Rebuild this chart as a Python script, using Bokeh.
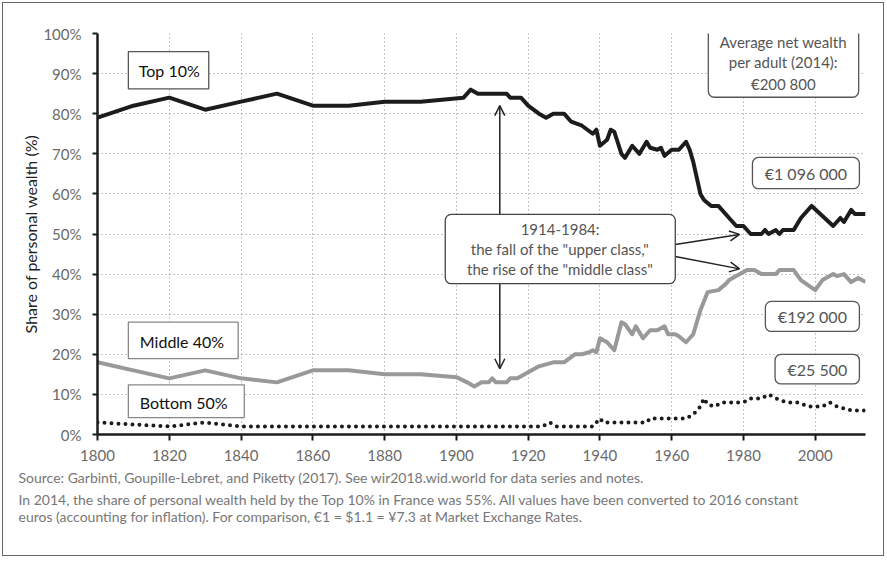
from bokeh.plotting import figure
from bokeh.models import (Range1d, FixedTicker, PrintfTickFormatter, Label,
                          BoxAnnotation, Arrow, OpenHead, Title)
from bokeh.embed import file_html
from bokeh.resources import INLINE

# ---------------- data ----------------
top10_years = [1800, 1810, 1820, 1830, 1840, 1850, 1860, 1870, 1880, 1890,
               1902, 1904, 1906, 1914, 1915, 1918, 1920, 1923, 1925, 1927,
               1930, 1932, 1935, 1938, 1939, 1940, 1942, 1943, 1944, 1946,
               1947, 1949, 1951, 1953, 1954, 1956, 1957, 1958, 1960, 1962,
               1964, 1965, 1966, 1967, 1968, 1969, 1971, 1973, 1976, 1978,
               1980, 1982, 1985, 1986, 1987, 1989, 1990, 1991, 1994, 1996,
               1999, 2002, 2005, 2007, 2008, 2010, 2011, 2014]
top10_share = [79, 82, 84, 81, 83, 85, 82, 82, 83, 83,
               84, 86, 85, 85, 84, 84, 82, 80, 79, 80,
               80, 78, 77, 75, 76, 72, 73.5, 76, 75.5, 70,
               69, 72, 70, 73, 71.5, 71, 71.5, 69.5, 71, 71,
               73, 71, 68, 64, 60, 58.5, 57, 57, 54, 52,
               52, 50, 50, 51, 50, 51, 50, 51, 51, 54,
               57, 54.5, 52, 54, 53, 56, 55, 55]

mid40_years = [1800, 1810, 1820, 1830, 1840, 1850, 1860, 1870, 1880, 1890,
               1900, 1903, 1905, 1907, 1909, 1910, 1911, 1914, 1915, 1917,
               1919, 1921, 1923, 1925, 1927, 1930, 1933, 1935, 1937, 1938,
               1939, 1940, 1942, 1944, 1946, 1947, 1949, 1950, 1952, 1954,
               1956, 1958, 1959, 1961, 1962, 1964, 1966, 1968, 1970, 1973,
               1975, 1976, 1979, 1981, 1983, 1985, 1989, 1990, 1994, 1996,
               2000, 2002, 2005, 2006, 2008, 2010, 2012, 2014]
mid40_share = [18, 16, 14, 16, 14, 13, 16, 16, 15, 15,
               14.3, 13, 12, 13, 13, 14, 13, 13, 14, 14,
               15, 16, 17, 17.5, 18, 18, 20, 20, 20.5, 21,
               20.5, 24, 23, 21, 28, 27.5, 25, 27, 24, 26,
               26, 27, 25, 25, 24.5, 23, 25, 31, 35.5, 36,
               37.5, 38.5, 40, 41, 41, 40, 40, 41, 41, 38.5,
               36, 38.5, 40, 39.5, 40, 38, 39, 38]

bot50_years = [1800, 1810, 1820, 1830, 1840, 1900, 1924, 1926, 1928, 1938,
               1940, 1941, 1953, 1954, 1964, 1965, 1966, 1968, 1969, 1970,
               1972, 1974, 1980, 1982, 1985, 1987, 1989, 1992, 1995, 1998,
               2002, 2004, 2006, 2008, 2010, 2014]
bot50_share = [3, 2.5, 2, 3, 2, 2, 2, 3, 2, 2,
               4, 3, 3, 4, 4, 4.5, 5, 7, 9, 7.5,
               7, 8, 8, 9, 9, 10, 9, 8, 8, 7,
               7, 8, 7, 6.5, 6, 6]

x_ticks = [1800, 1820, 1840, 1860, 1880, 1900, 1920, 1940, 1960, 1980, 2000]
y_ticks = [0, 10, 20, 30, 40, 50, 60, 70, 80, 90, 100]

source_note = "Source: Garbinti, Goupille-Lebret, and Piketty (2017). See wir2018.wid.world for data series and notes."
comment_note = ("In 2014, the share of personal wealth held by the Top 10% in France was 55%. All values have been converted to 2016 constant\n"
                "euros (accounting for inflation). For comparison, €1 = $1.1 = ¥7.3 at Market Exchange Rates.")

FONT = "Lato"
DARK = "#1c1c1c"
MID = "#999999"
TXT = "#555555"

p = figure(width=882, height=554, output_backend="svg", toolbar_location=None,
           x_range=Range1d(1800, 2014), y_range=Range1d(0, 100),
           min_border_left=94, min_border_right=20, min_border_top=30,
           min_border_bottom=123)
p.styles = {"border": "1px solid #666666", "margin-left": "2px", "margin-top": "2px"}
p.outline_line_color = None
p.background_fill_color = "white"
p.border_fill_color = "white"

p.xaxis.ticker = FixedTicker(ticks=x_ticks)
p.yaxis.ticker = FixedTicker(ticks=y_ticks)
p.yaxis.formatter = PrintfTickFormatter(format="%d%%")
for ax in (p.xaxis[0], p.yaxis[0]):
    ax.axis_line_width = 2.5
    ax.axis_line_color = DARK
    ax.major_tick_line_width = 2
    ax.major_tick_line_color = DARK
    ax.major_tick_in = 0
    ax.major_tick_out = 6
    ax.minor_tick_line_color = None
    ax.major_label_text_font = FONT
    ax.major_label_text_font_size = "15px"
    ax.major_label_text_color = "#6a6a6a"
p.yaxis.major_tick_out = 5
p.yaxis.major_label_standoff = 11
p.xaxis.major_label_standoff = 9
p.yaxis.axis_label = "Share of personal wealth (%)"
p.yaxis.axis_label_text_font = FONT
p.yaxis.axis_label_text_font_style = "normal"
p.yaxis.axis_label_text_font_size = "16px"
p.yaxis.axis_label_text_color = "#222222"
p.yaxis.axis_label_standoff = 0

for g in (p.xgrid[0], p.ygrid[0]):
    g.grid_line_color = "#888888"
    g.grid_line_dash = "1 3"
    g.grid_line_width = 1

p.line(mid40_years, mid40_share, line_width=4, color=MID, line_join="round")
p.line(top10_years, top10_share, line_width=4, color=DARK, line_join="round")
p.line(bot50_years, bot50_share, line_width=4, color=DARK, line_dash="0 7",
       line_cap="round")

# arrows (drawn before boxes so the boxes cover them)
arrow_specs = [
    (1912.1, 54.9, 1912.1, 82.0),
    (1912.1, 37.6, 1912.1, 16.4),
    (1961.0, 47.4, 1978.9, 49.9),
    (1961.0, 44.4, 1978.9, 41.3),
]
for xs, ys, xe, ye in arrow_specs:
    p.add_layout(Arrow(x_start=xs, y_start=ys, x_end=xe, y_end=ye,
                       line_color="#222222", line_width=1.5,
                       end=OpenHead(size=10, line_color="#222222", line_width=1.5)))


def box(l, r, t, b, color, radius, width=1.3):
    p.add_layout(BoxAnnotation(left=l, right=r, top=t, bottom=b,
                               fill_color="white", fill_alpha=1,
                               line_color=color, line_width=width,
                               line_alpha=1, border_radius=radius))


def label(x, y, text, color=TXT, size="15px", align="center"):
    p.add_layout(Label(x=x, y=y, text=text, text_font=FONT,
                       text_font_size=size, text_color=color,
                       text_align=align, text_baseline="middle"))


# series name boxes
box(1808.6, 1831.0, 95.5, 86.2, "#555555", 0)
label(1811.5, 90.8, "Top 10%", color="#111111", size="16px", align="left")
box(1808.6, 1839.2, 28.0, 18.9, "#888888", 0)
label(1811.8, 23.3, "Middle 40%", color="#111111", size="16px", align="left")
box(1808.6, 1840.9, 12.4, 4.2, "#888888", 0)
label(1811.8, 8.1, "Bottom 50%", color="#111111", size="16px", align="left")

# average wealth box
box(1970.2, 2012.1, 101.6, 84.1, "#555555", 6)
label(1991.1, 98.0, "Average net wealth")
label(1991.1, 92.8, "per adult (2014):")
label(1991.1, 87.5, "€200 800")

# group averages
box(1982.5, 2012.3, 69.1, 61.3, "#555555", 6)
label(1997.4, 65.2, "€1 096 000", size="16px")
box(1986.1, 2012.3, 33.2, 25.7, "#555555", 6)
label(1999.2, 29.4, "€192 000", size="16px")
box(1988.8, 2012.3, 20.0, 12.6, "#555555", 6)
label(2000.6, 16.3, "€25 500", size="16px")

# annotation box
box(1896.9, 1961.0, 54.9, 37.6, "#444444", 6)
label(1928.9, 51.2, "1914-1984:")
label(1928.9, 46.3, 'the fall of the "upper class,"')
label(1928.9, 41.3, 'the rise of the "middle class"')

# source notes below the chart
for txt, sto in ((source_note, 6), (comment_note, 1)):
    p.add_layout(Title(text=txt, align="left", offset=-79, standoff=sto,
                       text_font=FONT, text_font_size="14px",
                       text_font_style="normal", text_color="#777777",
                       text_line_height=1.02), "below")

open("out.html", "w").write(file_html(p, INLINE))
